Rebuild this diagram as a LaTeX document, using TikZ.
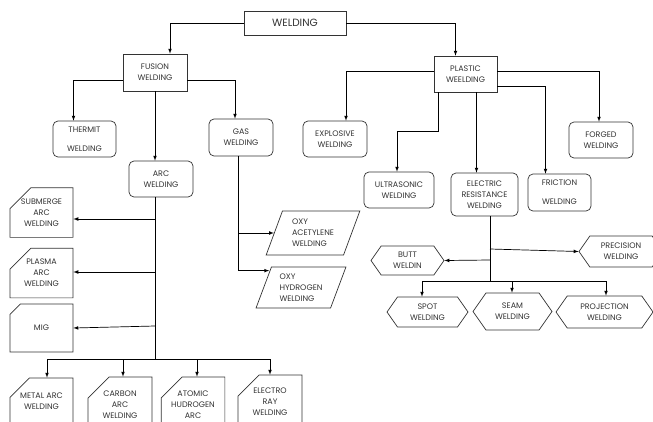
\documentclass[tikz,border=0pt]{standalone}
\usepackage{fontspec}
\setmainfont{Poppins}
\usetikzlibrary{shapes.geometric,shapes.misc,shapes.symbols}

\begin{document}
\begin{tikzpicture}[
x=1pt,y=-1pt,
line width=0.7pt,
every node/.style={
draw=black!80,
align=center,
inner sep=0pt,
text=black!80,
font=\fontsize{8}{11}\selectfont
},
box/.style={rectangle},
rbox/.style={rectangle,rounded corners=5pt},
snip/.style={chamfered rectangle,chamfered rectangle corners=north west,
chamfered rectangle xsep=10pt,chamfered rectangle ysep=11pt},
hexa/.style={signal,signal to=west and east,signal pointer angle=110},
para/.style={trapezium,trapezium left angle=68,trapezium right angle=112,
trapezium stretches=true,align=left}
]
\clip (0,0) rectangle (653,421);

\node[box,minimum width=102pt,minimum height=24pt,font=\fontsize{10.5}{12}\selectfont] (weld) at (295,23) {WELDING};

\node[box,minimum width=64pt,minimum height=37pt] (fusion) at (155,72.5) {FUSION\\WELDING};
\node[box,minimum width=63pt,minimum height=36pt] (plastic) at (465.5,74) {PLASTIC\\WEELDING};

\node[rbox,minimum width=63pt,minimum height=36pt] (thermit) at (84.5,139) {THERMIT\\[8pt]WELDING};
\node[rbox,minimum width=64pt,minimum height=36pt] (arc) at (161,179) {ARC\\WELDING};
\node[rbox,minimum width=64pt,minimum height=37pt] (gas) at (241,137.5) {GAS\\WELDING};
\node[rbox,minimum width=64pt,minimum height=36pt] (explosive) at (335,139) {EXPLOSIVE\\WELDING};
\node[rbox,minimum width=64pt,minimum height=36pt] (forged) at (601,140) {FORGED\\WELDING};
\node[rbox,minimum width=70pt,minimum height=36pt] (ultra) at (399,190) {ULTRASONIC\\WELDING};
\node[rbox,minimum width=67pt,minimum height=43pt] (elec) at (484.5,194.5) {ELECTRIC\\RESISTANCE\\WELDING};
\node[rbox,minimum width=63pt,minimum height=37pt] (friction) at (559.5,192.5) {FRICTION\\[8pt]WELDING};

\node[hexa,minimum width=73pt,minimum height=29pt] (butt) at (407.5,260.5) {BUTT\\WELDIN};
\node[hexa,minimum width=84pt,minimum height=31pt] (precision) at (621,251.5) {PRECISION\\WELDING};
\node[hexa,minimum width=81pt,minimum height=30pt] (spot) at (427.5,312) {SPOT\\WELDING};
\node[hexa,minimum width=79pt,minimum height=37pt] (seam) at (512.5,311.5) {SEAM\\WELDING};
\node[hexa,minimum width=97pt,minimum height=32pt] (projection) at (604.5,312) {PROJECTION\\WELDING};

\node[snip,minimum width=63pt,minimum height=49pt] (submerge) at (41.5,212.5) {SUBMERGE\\ARC\\WELDING};
\node[snip,minimum width=63pt,minimum height=48pt] (plasma) at (41.5,273) {PLASMA\\ARC\\WELDING};
\node[snip,minimum width=63pt,minimum height=48pt] (mig) at (41.5,328) {MIG};
\node[snip,minimum width=63pt,minimum height=46pt] (metal) at (41.5,401) {METAL ARC\\WELDING};
\node[snip,minimum width=64pt,minimum height=56pt] (carbon) at (120,405) {CARBON\\ARC\\WELDING};
\node[snip,minimum width=62pt,minimum height=56pt] (atomic) at (193,405) {ATOMIC\\HUDROGEN\\ARC};
\node[snip,minimum width=64pt,minimum height=54pt] (electro) at (270,402) {ELECTRO\\RAY\\WELDING};

\node[para,minimum width=94pt,minimum height=44pt] (oxyac) at (313,233) {OXY\\ACETYLENE\\WELDING};
\node[para,minimum width=90pt,minimum height=41pt] (oxyhy) at (301,287.5) {OXY\\HYDROGEN\\WELDING};

% top level
\draw[-latex] (weld.west) -| ([xshift=15pt]fusion.north);
\draw[-latex] (weld.east) -| ([xshift=-10pt]plastic.north);

% fusion side
\draw[-latex] ([yshift=-8pt]fusion.west) -| ([xshift=-11pt]thermit.north);
\draw[-latex] (fusion.south) -- (fusion.south |- arc.north);
\draw[-latex] ([yshift=-8pt]fusion.east) -| ([xshift=-6pt]gas.north);

\draw[-latex] ([xshift=-3pt]gas.south) |- (oxyac.west);
\draw[-latex] ([xshift=-3pt]gas.south) |- ([shift={(-2pt,-4pt)}]oxyhy.top left corner);

\coordinate (aSub) at (155,219);
\coordinate (aPla) at (155,272);
\coordinate (aMig) at (155,326);
\coordinate (aBar) at (155,359);
\coordinate (b1) at (47,359);
\coordinate (b2) at (123,359);
\coordinate (b3) at (197,359);
\coordinate (b4) at (270,359);

\draw ([xshift=-6pt]arc.south) -- (aBar);
\draw[-latex] (aSub) -- (aSub -| submerge.east);
\draw[-latex] (aPla) -- (aPla -| plasma.east);
\draw[-latex] (aMig) -- (mig.east);
\draw (b1) -- (b4);
\draw[-latex] (b1) -- (b1 |- metal.north);
\draw[-latex] (b2) -- (b2 |- carbon.north);
\draw[-latex] (b3) -- (b3 |- atomic.north);
\draw[-latex] (b4) -- (b4 |- electro.north);

% plastic side
\draw[-latex] ([yshift=3pt]plastic.west) -| ([xshift=11pt]explosive.north);
\draw[-latex] ([yshift=3pt]plastic.east) -| ([xshift=-2pt]forged.north);
\draw[-latex] ([yshift=-12pt]plastic.east) -| ([xshift=-14pt]friction.north);
\draw[-latex] ([xshift=11pt]plastic.south) -- ([xshift=-8pt]elec.north);
\draw[-latex] ([xshift=-27pt]plastic.south) -- ++(0,39) -| ([xshift=-2pt]ultra.north);

\coordinate (ePre) at (490,249);
\coordinate (eBut) at (490,260);
\coordinate (eBar) at (490,281);
\coordinate (e1) at (422,281);
\coordinate (e2) at (512,281);
\coordinate (e3) at (606,281);

\draw ([xshift=5.5pt]elec.south) -- (eBar);
\draw[-latex] (ePre) -- (precision.west);
\draw[-latex] (eBut) -- (butt.east);
\draw (e1) -- (e3);
\draw[-latex] (e1) -- (e1 |- spot.north);
\draw[-latex] (e2) -- (e2 |- seam.north);
\draw[-latex] (e3) -- (e3 |- projection.north);

\end{tikzpicture}
\end{document}
